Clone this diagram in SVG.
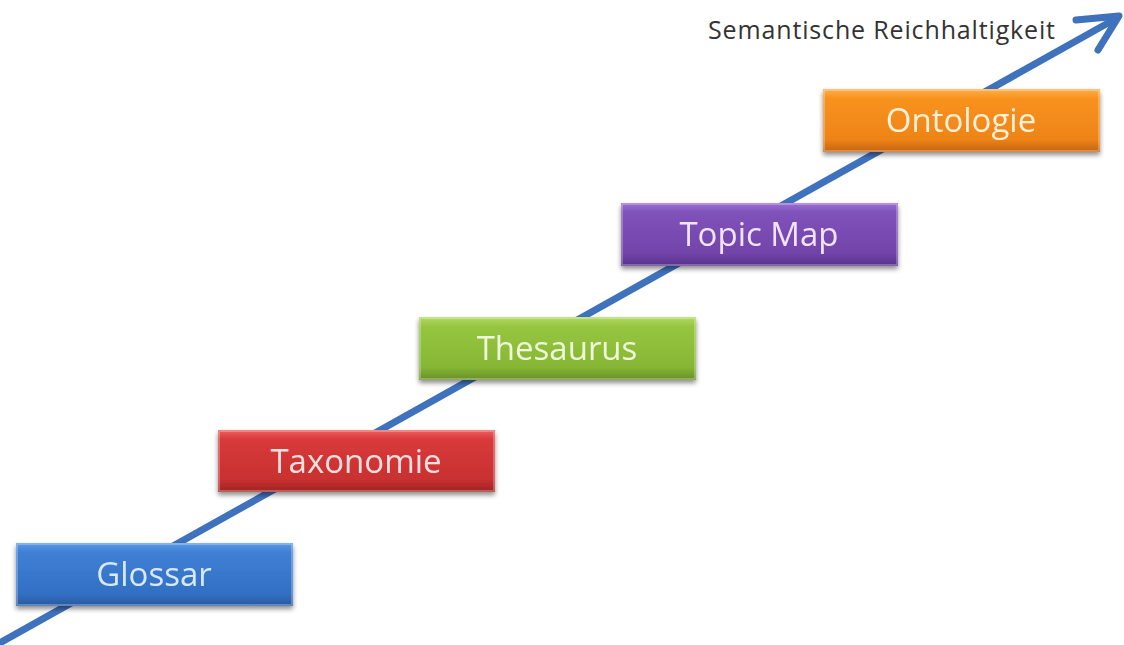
<svg xmlns="http://www.w3.org/2000/svg" width="1124" height="645" viewBox="0 0 1124 645">
  <defs>
    <style>
      .lbl { font-family: "Open Sans", "Liberation Sans", sans-serif; font-size: 33px; text-anchor: middle; }
      .title { font-family: "Open Sans", "Liberation Sans", sans-serif; font-size: 25px; fill: #333333; }
      .axis { stroke: #3f72bd; stroke-width: 7; fill: none; }
      .bevel { fill: none; stroke: #ffffff; stroke-opacity: 0.35; stroke-width: 1.5; }
    </style>
    <filter id="shadow" x="-5%" y="-20%" width="110%" height="160%">
      <feGaussianBlur in="SourceAlpha" stdDeviation="2.5"/>
      <feOffset dx="0" dy="3" result="b"/>
      <feComponentTransfer><feFuncA type="linear" slope="0.45"/></feComponentTransfer>
      <feMerge><feMergeNode/><feMergeNode in="SourceGraphic"/></feMerge>
    </filter>
    <linearGradient id="gBlue" x1="0" y1="0" x2="0" y2="1">
      <stop offset="0" stop-color="#5a9ae6"/>
      <stop offset="0.15" stop-color="#3f80d4"/>
      <stop offset="0.8" stop-color="#3270c4"/>
      <stop offset="1" stop-color="#2a5a9e"/>
    </linearGradient>
    <linearGradient id="gRed" x1="0" y1="0" x2="0" y2="1">
      <stop offset="0" stop-color="#ee6060"/>
      <stop offset="0.15" stop-color="#d83a3a"/>
      <stop offset="0.8" stop-color="#c93030"/>
      <stop offset="1" stop-color="#9e2424"/>
    </linearGradient>
    <linearGradient id="gGreen" x1="0" y1="0" x2="0" y2="1">
      <stop offset="0" stop-color="#b4d866"/>
      <stop offset="0.15" stop-color="#96c640"/>
      <stop offset="0.8" stop-color="#86b634"/>
      <stop offset="1" stop-color="#688e28"/>
    </linearGradient>
    <linearGradient id="gPurple" x1="0" y1="0" x2="0" y2="1">
      <stop offset="0" stop-color="#9c70d2"/>
      <stop offset="0.15" stop-color="#8052ba"/>
      <stop offset="0.8" stop-color="#7244aa"/>
      <stop offset="1" stop-color="#56328a"/>
    </linearGradient>
    <linearGradient id="gOrange" x1="0" y1="0" x2="0" y2="1">
      <stop offset="0" stop-color="#ffb04a"/>
      <stop offset="0.15" stop-color="#f8921e"/>
      <stop offset="0.8" stop-color="#ee8418"/>
      <stop offset="1" stop-color="#c46410"/>
    </linearGradient>
  </defs>

  <rect width="1124" height="645" fill="#ffffff"/>

  <!-- rising axis with open arrowhead -->
  <g id="connectors">
    <line class="axis" x1="-2" y1="644" x2="1117" y2="18"/>
    <polyline class="axis" points="1076,20 1119,16 1098,50" stroke-linejoin="round" stroke-linecap="round" stroke-width="9"/>
  </g>

  <g id="title">
    <text class="title" x="708" y="39" textLength="347" lengthAdjust="spacing">Semantische Reichhaltigkeit</text>
  </g>

  <g id="glossar" filter="url(#shadow)">
    <rect x="16" y="543" width="277" height="63" fill="url(#gBlue)"/>
    <rect class="bevel" x="17" y="544" width="275" height="61"/>
    <text class="lbl" x="154" y="586" fill="#d8e8ff">Glossar</text>
  </g>

  <g id="taxonomie" filter="url(#shadow)">
    <rect x="218" y="430" width="277" height="62" fill="url(#gRed)"/>
    <rect class="bevel" x="219" y="431" width="275" height="60"/>
    <text class="lbl" x="356" y="473" fill="#ffe0e0">Taxonomie</text>
  </g>

  <g id="thesaurus" filter="url(#shadow)">
    <rect x="419" y="317" width="277" height="63" fill="url(#gGreen)"/>
    <rect class="bevel" x="420" y="318" width="275" height="61"/>
    <text class="lbl" x="557" y="360" fill="#eef8d8">Thesaurus</text>
  </g>

  <g id="topicmap" filter="url(#shadow)">
    <rect x="621" y="203" width="277" height="63" fill="url(#gPurple)"/>
    <rect class="bevel" x="622" y="204" width="275" height="61"/>
    <text class="lbl" x="759" y="246" fill="#f0e4ff">Topic Map</text>
  </g>

  <g id="ontologie" filter="url(#shadow)">
    <rect x="823" y="89" width="277" height="63" fill="url(#gOrange)"/>
    <rect class="bevel" x="824" y="90" width="275" height="61"/>
    <text class="lbl" x="961" y="132" fill="#fff0d8">Ontologie</text>
  </g>
</svg>
